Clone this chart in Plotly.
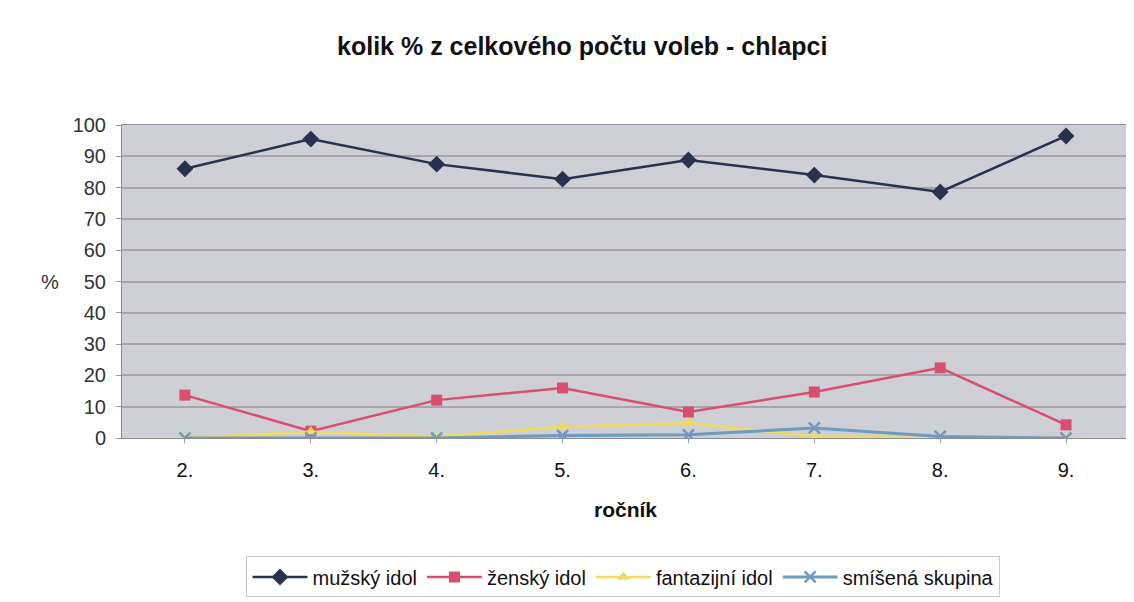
import plotly.graph_objects as go

categories = ["2.", "3.", "4.", "5.", "6.", "7.", "8.", "9."]
muzsky = [86, 95.5, 87.5, 82.7, 88.8, 84, 78.6, 96.5]
zensky = [13.7, 2.2, 12.1, 16, 8.3, 14.7, 22.4, 4.2]
fantazijni = [0, 2, 0.5, 3.5, 4.8, 0.5, 0, 0]
smisena = [0, 0, 0, 0.8, 1, 3.2, 0.5, 0]
y_ticks = [0, 10, 20, 30, 40, 50, 60, 70, 80, 90, 100]

FONT = "Liberation Sans, Arial, sans-serif"

fig = go.Figure()
series = [
    ("mužský idol", muzsky, "#283250", "diamond", 13),
    ("ženský idol", zensky, "#d9506e", "square", 11),
    ("fantazijní idol", fantazijni, "#f0dc5a", "triangle-up", 11),
    ("smíšená skupina", smisena, "#6e9cc0", "x-thin", 11),
]
for name, vals, color, sym, size in series:
    fig.add_trace(go.Scatter(
        x=categories, y=vals, name=name, mode="lines+markers",
        line=dict(color=color, width=2.5 if sym != "x-thin" else 3),
        marker=dict(symbol=sym, size=size, color=color,
                    line=dict(color=color, width=2.5 if sym == "x-thin" else 0)),
    ))

# the page body has an 8px margin, so the figure starts at (8, 8)
fig.update_layout(
    width=1126, height=594,
    margin=dict(l=114, r=5, t=117, b=164),
    paper_bgcolor="white",
    plot_bgcolor="#cfcfd6",
    font=dict(family=FONT, size=20, color="#222"),
    title=dict(text="<b>kolik % z celkového počtu voleb - chlapci</b>",
               x=0.51, xanchor="center", y=1 - 38 / 594, yanchor="middle",
               font=dict(size=25, color="#111")),
    xaxis=dict(
        type="category", showgrid=False, showline=True, linecolor="#8c8c94",
        mirror=True, ticks="outside", ticklen=4, tickcolor="#999",
        ticklabelstandoff=10, tickfont=dict(size=20, color="#111"),
        title=dict(text="<b>ročník</b>", font=dict(size=21, color="#111"), standoff=22),
        range=[-0.5, 7.5], automargin=False,
    ),
    yaxis=dict(
        range=[0, 100], tickvals=y_ticks, showgrid=True, gridcolor="#a8a4aa",
        gridwidth=2, showline=True, linecolor="#8c8c94", mirror=True,
        ticks="outside", ticklen=5, tickcolor="#999", ticklabelstandoff=6,
        tickfont=dict(size=20, color="#333"), zeroline=False, automargin=False,
    ),
    legend=dict(
        orientation="h", x=0.498, xanchor="center", y=-0.444, yanchor="middle",
        bgcolor="white", bordercolor="#c8c8cc", borderwidth=1,
        font=dict(size=20, color="#111"), itemwidth=55,
    ),
    showlegend=True,
)
fig.add_annotation(text="%", xref="paper", yref="paper", x=-0.0715, y=0.5,
                   xanchor="center", yanchor="middle", showarrow=False,
                   font=dict(size=20, color="#333"))

fig.write_html("out.html")
